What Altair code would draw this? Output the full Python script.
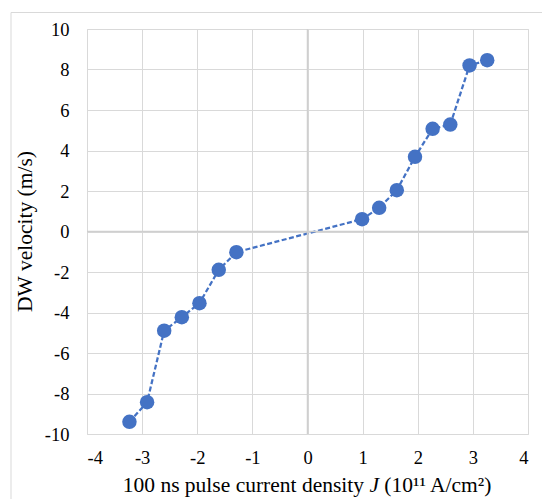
import altair as alt
import pandas as pd

current_j = [-3.23, -2.91, -2.60, -2.28, -1.96, -1.61, -1.29,
             0.99, 1.30, 1.62, 1.95, 2.27, 2.59, 2.94, 3.26]
velocity = [-9.40, -8.43, -4.90, -4.23, -3.54, -1.89, -1.02,
            0.61, 1.17, 2.04, 3.69, 5.07, 5.28, 8.20, 8.46]
x_ticks = [-4, -3, -2, -1, 0, 1, 2, 3, 4]
y_ticks = [-10, -8, -6, -4, -2, 0, 2, 4, 6, 8, 10]

df = pd.DataFrame({"J": current_j, "v": velocity, "order": list(range(len(current_j)))})
zero = pd.DataFrame({"z": [0]})

BLUE = "#4472C4"
FONT = "Liberation Serif"
TFS = 21.5

xscale = alt.Scale(domain=[-4, 4], nice=False)
yscale = alt.Scale(domain=[-10, 10], nice=False)

xaxis = alt.Axis(values=x_ticks, title=None, labelExpr="datum.value + ''",
                 labelPadding=14, labelFont=FONT, labelFontSize=18.5)
yaxis = alt.Axis(values=y_ticks, title=None, labelExpr="datum.value + ''",
                 labelPadding=18, labelFont=FONT, labelFontSize=18.5)

X = alt.X("J:Q", scale=xscale, axis=xaxis)
Y = alt.Y("v:Q", scale=yscale, axis=yaxis)

base = alt.Chart(df)

line = base.mark_line(color=BLUE, strokeDash=[5, 2.5], strokeWidth=2.25).encode(
    x=X, y=Y, order="order:Q",
)
pts = base.mark_circle(color=BLUE, size=210, opacity=1).encode(x=X, y=Y)

zx = alt.Chart(zero).mark_rule(color="#CFCFCF", strokeWidth=1.5).encode(
    x=alt.X("z:Q", scale=xscale, axis=xaxis))
zy = alt.Chart(zero).mark_rule(color="#CFCFCF", strokeWidth=1.5).encode(
    y=alt.Y("z:Q", scale=yscale, axis=yaxis))

# x-axis title pieces (with italic J)
TY = 463
t1 = alt.Chart(zero).mark_text(text="100 ns pulse current density", font=FONT, fontSize=TFS,
                               align="right", baseline="alphabetic", color="#000000").encode(
    x=alt.value(277), y=alt.value(TY))
t2 = alt.Chart(zero).mark_text(text="J", font=FONT, fontSize=TFS, fontStyle="italic",
                               align="left", baseline="alphabetic", color="#000000").encode(
    x=alt.value(282.4), y=alt.value(TY))
t3 = alt.Chart(zero).mark_text(text="(10¹¹ A/cm²)", font=FONT, fontSize=TFS,
                               align="left", baseline="alphabetic", color="#000000").encode(
    x=alt.value(297.3), y=alt.value(TY))
# y-axis title
ty = alt.Chart(zero).mark_text(text="DW velocity (m/s)", font=FONT, fontSize=TFS, angle=270,
                               align="center", baseline="middle", color="#000000").encode(
    x=alt.value(-61), y=alt.value(202.5))

# outer chart border (top and left)
b1 = alt.Chart(zero).mark_rule(color="#D9D9D9", strokeWidth=1).encode(
    x=alt.value(-76), y=alt.value(-16.5), y2=alt.value(500))
b2 = alt.Chart(zero).mark_rule(color="#D9D9D9", strokeWidth=1).encode(
    x=alt.value(-76), x2=alt.value(500), y=alt.value(-16.5))

chart = alt.layer(line, zx, zy, pts, t1, t2, t3, ty, b1, b2).properties(
    width=441, height=405,
    autosize=alt.AutoSizeParams(type="none"),
    padding={"left": 79, "top": 21, "right": 14, "bottom": 65},
).configure_view(stroke="#D9D9D9", strokeWidth=1).configure(background="white", font=FONT).configure_axis(
    grid=True, ticks=False, domain=False, gridColor="#D9D9D9", gridWidth=1,
    labelFont=FONT, labelFontSize=18.5, labelColor="#000000",
)

chart.save("out.html", embed_options={"renderer": "svg", "actions": False})
